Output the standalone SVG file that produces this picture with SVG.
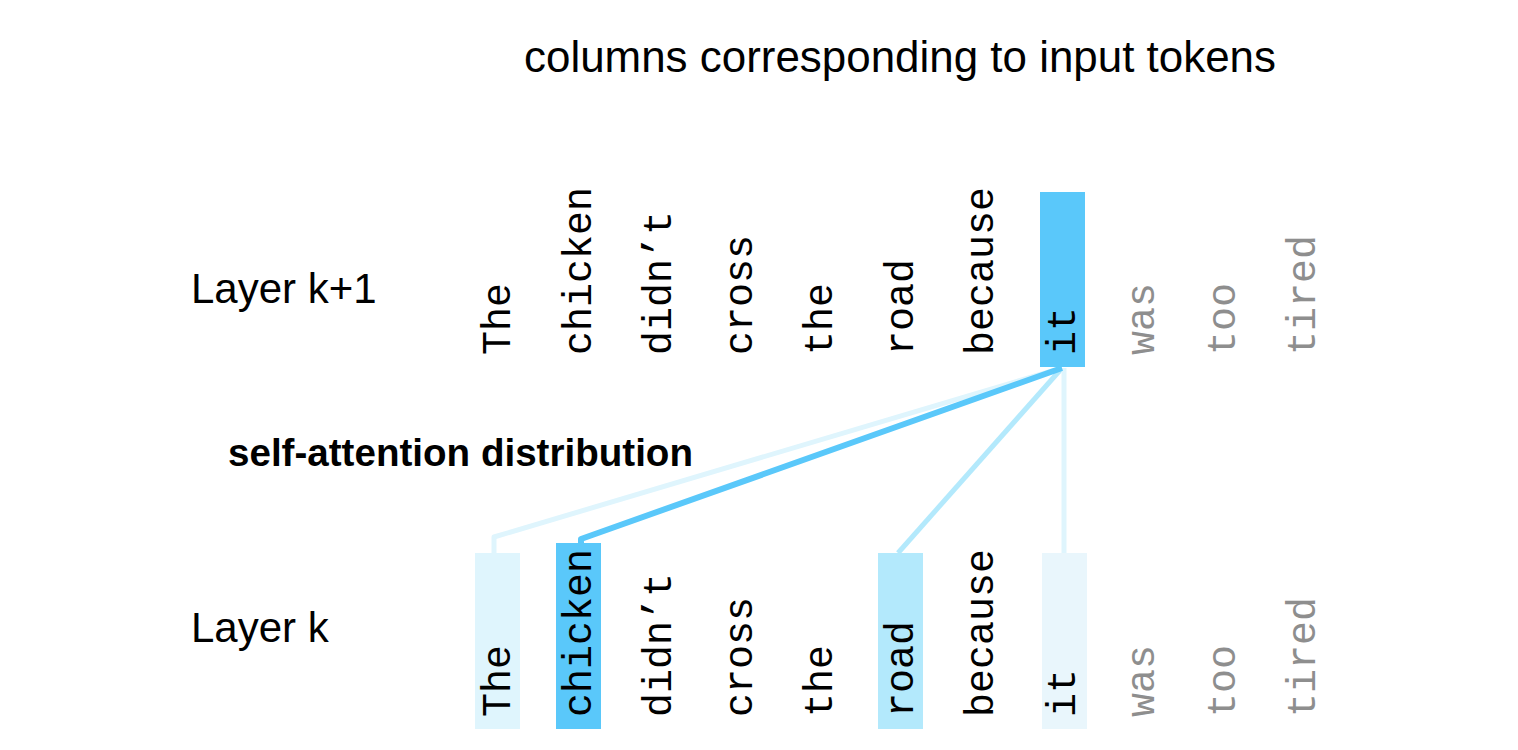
<svg xmlns="http://www.w3.org/2000/svg" width="1518" height="750" viewBox="0 0 1518 750">
<style>
.lbl{font-family:"Liberation Sans",Arial,sans-serif;fill:#000}
.tok{font-family:"Liberation Mono","Courier New",monospace;font-size:40px;fill:#000}
.tok.dim{fill:#8e8e8e}
.conn{fill:none;stroke-linejoin:round}
</style>
<rect width="1518" height="750" fill="#fff"/>
<text class="lbl" x="900" y="72" font-size="44" text-anchor="middle" textLength="752" lengthAdjust="spacingAndGlyphs">columns corresponding to input tokens</text>
<text class="lbl" x="191" y="303" font-size="42">Layer k+1</text>
<text class="lbl" x="191" y="642" font-size="42">Layer k</text>
<text class="lbl" x="228" y="466" font-size="38" font-weight="bold" textLength="465" lengthAdjust="spacingAndGlyphs">self-attention distribution</text>

<g id="connectors">
<polyline class="conn" points="1062,368 494,537 494,553" stroke="#dff5fd" stroke-width="5"/>
<polyline class="conn" points="1062,368 898,553" stroke="#b3e9fc" stroke-width="5"/>
<polyline class="conn" points="1064,368 1064,553" stroke="#dff5fd" stroke-width="5"/>
<polyline class="conn" points="1062,368 581,539 581,543" stroke="#5ac8fa" stroke-width="6"/>
</g>

<g id="top-layer">
<g id="top-The"><text class="tok" transform="translate(510,355) rotate(-90)">The</text></g>
<g id="top-chicken"><text class="tok" transform="translate(590.5,355) rotate(-90)">chicken</text></g>
<g id="top-didnt"><text class="tok" transform="translate(671,355) rotate(-90)">didn’t</text></g>
<g id="top-cross"><text class="tok" transform="translate(751.5,355) rotate(-90)">cross</text></g>
<g id="top-the"><text class="tok" transform="translate(832,355) rotate(-90)">the</text></g>
<g id="top-road"><text class="tok" transform="translate(912.5,355) rotate(-90)">road</text></g>
<g id="top-because"><text class="tok" transform="translate(993,355) rotate(-90)">because</text></g>
<g id="top-it"><rect x="1040" y="192" width="45" height="175" fill="#5ac8fa"/><text class="tok" transform="translate(1075,355) rotate(-90)">it</text></g>
<g id="top-was"><text class="tok dim" transform="translate(1154,355) rotate(-90)">was</text></g>
<g id="top-too"><text class="tok dim" transform="translate(1234.5,355) rotate(-90)">too</text></g>
<g id="top-tired"><text class="tok dim" transform="translate(1315,355) rotate(-90)">tired</text></g>
</g>

<g id="bottom-layer">
<g id="bot-The"><rect x="475" y="553" width="45" height="176" fill="#dff5fd"/><text class="tok" transform="translate(510,717) rotate(-90)">The</text></g>
<g id="bot-chicken"><rect x="556" y="543" width="45" height="186" fill="#5ac8fa"/><text class="tok" transform="translate(590.5,717) rotate(-90)">chicken</text></g>
<g id="bot-didnt"><text class="tok" transform="translate(671,717) rotate(-90)">didn’t</text></g>
<g id="bot-cross"><text class="tok" transform="translate(751.5,717) rotate(-90)">cross</text></g>
<g id="bot-the"><text class="tok" transform="translate(832,717) rotate(-90)">the</text></g>
<g id="bot-road"><rect x="878" y="553" width="45" height="176" fill="#b3e9fc"/><text class="tok" transform="translate(912.5,717) rotate(-90)">road</text></g>
<g id="bot-because"><text class="tok" transform="translate(993,717) rotate(-90)">because</text></g>
<g id="bot-it"><rect x="1042" y="553" width="45" height="176" fill="#e9f6fc"/><text class="tok" transform="translate(1075,717) rotate(-90)">it</text></g>
<g id="bot-was"><text class="tok dim" transform="translate(1154,717) rotate(-90)">was</text></g>
<g id="bot-too"><text class="tok dim" transform="translate(1234.5,717) rotate(-90)">too</text></g>
<g id="bot-tired"><text class="tok dim" transform="translate(1315,717) rotate(-90)">tired</text></g>
</g>
</svg>
